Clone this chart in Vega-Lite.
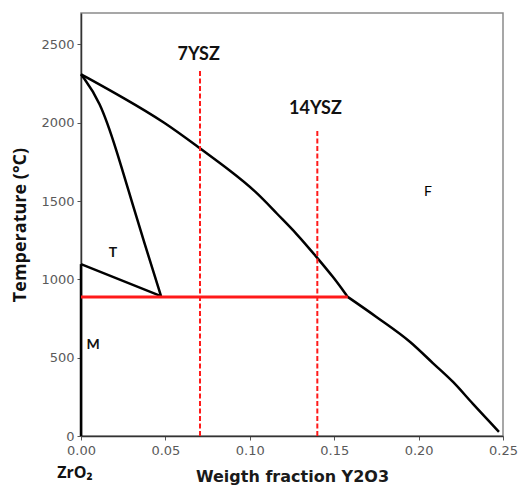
{
  "$schema": "https://vega.github.io/schema/vega-lite/v6.json",
  "width": 422,
  "height": 423,
  "autosize": "none",
  "padding": {"left": 81, "top": 13, "right": 15, "bottom": 51},
  "background": "white",
  "config": {
    "view": {"stroke": "#8a8a8a", "strokeWidth": 1.5},
    "axis": {"grid": false}
  },
  "datasets": {
    "lines": [
      {"s": "upper", "o": 1, "x": 0, "y": 2309},
      {"s": "upper", "o": 2, "x": 0.025, "y": 2160},
      {"s": "upper", "o": 3, "x": 0.05, "y": 2000},
      {"s": "upper", "o": 4, "x": 0.0705, "y": 1835},
      {"s": "upper", "o": 5, "x": 0.0882, "y": 1696},
      {"s": "upper", "o": 6, "x": 0.104, "y": 1558},
      {"s": "upper", "o": 7, "x": 0.1159, "y": 1420},
      {"s": "upper", "o": 8, "x": 0.1277, "y": 1293},
      {"s": "upper", "o": 9, "x": 0.1395, "y": 1143},
      {"s": "upper", "o": 10, "x": 0.1494, "y": 1016},
      {"s": "upper", "o": 11, "x": 0.158, "y": 888},
      {"s": "tcurve", "o": 1, "x": 0, "y": 2309},
      {"s": "tcurve", "o": 2, "x": 0.0112, "y": 2143},
      {"s": "tcurve", "o": 3, "x": 0.0211, "y": 1824},
      {"s": "tcurve", "o": 4, "x": 0.031, "y": 1462},
      {"s": "tcurve", "o": 5, "x": 0.0389, "y": 1186},
      {"s": "tcurve", "o": 6, "x": 0.0474, "y": 893}
    ],
    "lowerline": [
      {"s": "lower", "o": 1, "x": 0.158, "y": 888},
      {"s": "lower", "o": 2, "x": 0.175, "y": 760},
      {"s": "lower", "o": 3, "x": 0.195, "y": 600},
      {"s": "lower", "o": 4, "x": 0.2086, "y": 464},
      {"s": "lower", "o": 5, "x": 0.2204, "y": 345},
      {"s": "lower", "o": 6, "x": 0.2322, "y": 205},
      {"s": "lower", "o": 7, "x": 0.2476, "y": 27}
    ],
    "straight": [
      {"s": "tline", "o": 1, "x": 0, "y": 1097},
      {"s": "tline", "o": 2, "x": 0.0474, "y": 893},
      {"s": "left", "o": 1, "x": 0, "y": 1097},
      {"s": "left", "o": 2, "x": 0, "y": 0}
    ],
    "redh": [
      {"s": "eutectoid", "o": 1, "x": 0, "y": 888},
      {"s": "eutectoid", "o": 2, "x": 0.158, "y": 888}
    ],
    "redv": [
      {"s": "7YSZ", "o": 1, "x": 0.0705, "y": 0},
      {"s": "7YSZ", "o": 2, "x": 0.0705, "y": 2330},
      {"s": "14YSZ", "o": 1, "x": 0.14, "y": 0},
      {"s": "14YSZ", "o": 2, "x": 0.14, "y": 1950}
    ],
    "big": [
      {"t": "7YSZ", "x": 0.0697, "y": 2430},
      {"t": "14YSZ", "x": 0.1389, "y": 2085}
    ],
    "phaseBold": [
      {"t": "T", "x": 0.019, "y": 1167},
      {"t": "M", "x": 0.0072, "y": 580}
    ],
    "phaseF": [
      {"t": "F", "x": 0.2056, "y": 1556}
    ],
    "zr": [
      {"t": "ZrO₂", "x": -0.0036, "y": -238}
    ]
  },
  "layer": [
    {
      "data": {"name": "lines"},
      "mark": {"type": "line", "color": "black", "strokeWidth": 2.5, "interpolate": "basis"},
      "encoding": {
        "x": {
          "field": "x", "type": "quantitative",
          "scale": {"domain": [0, 0.25], "nice": false, "zero": false},
          "axis": {
            "values": [0, 0.05, 0.1, 0.15, 0.2, 0.25],
            "format": ".2f",
            "title": "Weigth fraction Y2O3",
            "titleFont": "DejaVu Sans", "titleFontSize": 16, "titleFontWeight": "bold", "titleColor": "#1a1a1a",
            "titlePadding": 11,
            "labelFont": "DejaVu Sans", "labelFontSize": 13, "labelColor": "#5a5a5a",
            "labelPadding": 4, "tickSize": 4, "tickColor": "#555",
            "domainColor": "#333", "domainWidth": 1.5,
            "labelFlush": false
          }
        },
        "y": {
          "field": "y", "type": "quantitative",
          "scale": {"domain": [0, 2700], "nice": false, "zero": false},
          "axis": {
            "values": [0, 500, 1000, 1500, 2000, 2500],
            "format": "d",
            "title": "Temperature (°C)",
            "titleFont": "Open Sans", "titleFontSize": 18, "titleFontWeight": "bold", "titleColor": "#111",
            "titlePadding": 11,
            "labelFont": "DejaVu Sans", "labelFontSize": 13, "labelColor": "#5a5a5a",
            "labelPadding": 3, "tickSize": 4, "tickColor": "#555",
            "domainColor": "#333", "domainWidth": 1.5
          }
        },
        "detail": {"field": "s"},
        "order": {"field": "o"}
      }
    },
    {
      "data": {"name": "lowerline"},
      "mark": {"type": "line", "color": "black", "strokeWidth": 2.5, "interpolate": "monotone"},
      "encoding": {
        "x": {"field": "x", "type": "quantitative"},
        "y": {"field": "y", "type": "quantitative"},
        "order": {"field": "o"}
      }
    },
    {
      "data": {"name": "straight"},
      "mark": {"type": "line", "color": "black", "strokeWidth": 2.5},
      "encoding": {
        "x": {"field": "x", "type": "quantitative"},
        "y": {"field": "y", "type": "quantitative"},
        "detail": {"field": "s"},
        "order": {"field": "o"}
      }
    },
    {
      "data": {"name": "redh"},
      "mark": {"type": "line", "color": "#ff1a1a", "strokeWidth": 3},
      "encoding": {
        "x": {"field": "x", "type": "quantitative"},
        "y": {"field": "y", "type": "quantitative"},
        "order": {"field": "o"}
      }
    },
    {
      "data": {"name": "redv"},
      "mark": {"type": "line", "color": "#ff1a1a", "strokeWidth": 2, "strokeDash": [5, 2.5]},
      "encoding": {
        "x": {"field": "x", "type": "quantitative"},
        "y": {"field": "y", "type": "quantitative"},
        "detail": {"field": "s"},
        "order": {"field": "o"}
      }
    },
    {
      "data": {"name": "big"},
      "mark": {"type": "text", "font": "Lato", "fontWeight": "bold", "fontSize": 18, "color": "#111", "baseline": "middle", "align": "center"},
      "encoding": {
        "x": {"field": "x", "type": "quantitative"},
        "y": {"field": "y", "type": "quantitative"},
        "text": {"field": "t"}
      }
    },
    {
      "data": {"name": "phaseBold"},
      "mark": {"type": "text", "font": "Lato", "fontWeight": "bold", "fontSize": 14, "color": "#111", "baseline": "middle", "align": "center"},
      "encoding": {
        "x": {"field": "x", "type": "quantitative"},
        "y": {"field": "y", "type": "quantitative"},
        "text": {"field": "t"}
      }
    },
    {
      "data": {"name": "phaseF"},
      "mark": {"type": "text", "font": "Lato", "fontWeight": "normal", "fontSize": 14, "color": "#000", "baseline": "middle", "align": "center"},
      "encoding": {
        "x": {"field": "x", "type": "quantitative"},
        "y": {"field": "y", "type": "quantitative"},
        "text": {"field": "t"}
      }
    },
    {
      "data": {"name": "zr"},
      "mark": {"type": "text", "font": "Open Sans", "fontWeight": "bold", "fontSize": 16, "color": "#111", "baseline": "middle", "align": "center", "clip": false},
      "encoding": {
        "x": {"field": "x", "type": "quantitative"},
        "y": {"field": "y", "type": "quantitative"},
        "text": {"field": "t"}
      }
    }
  ]
}
